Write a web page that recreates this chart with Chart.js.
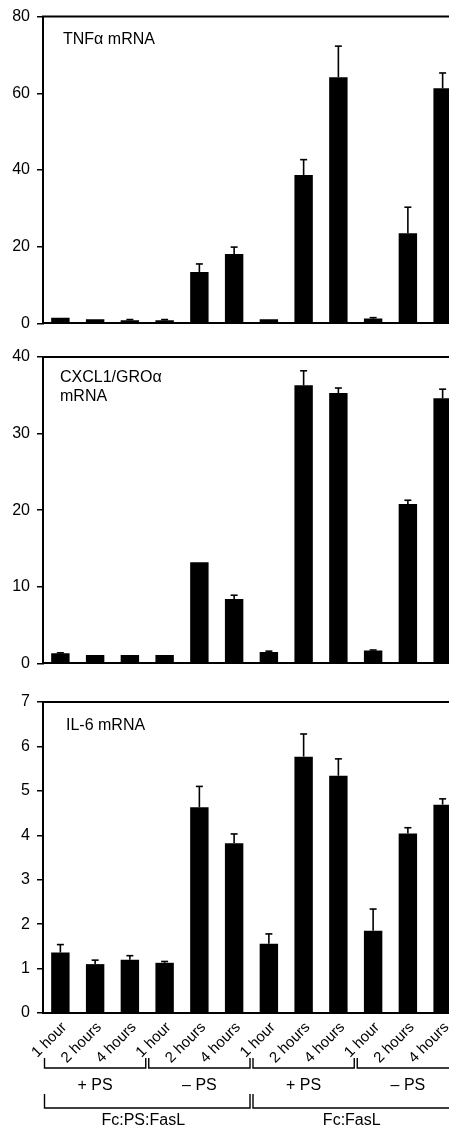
<!DOCTYPE html>
<html><head><meta charset="utf-8">
<script src="https://cdn.jsdelivr.net/npm/chart.js@4.4.1/dist/chart.umd.min.js"></script>
<style>
html,body{margin:0;padding:0;background:#fff;overflow:hidden;width:449px;height:1129px;}
#wrap{position:relative;width:449px;height:1129px;overflow:hidden;background:#fff;}
canvas{position:absolute;left:0;}
</style></head><body>
<div id="wrap">
<canvas id="c1" width="460" height="340" style="top:0px"></canvas>
<canvas id="c2" width="460" height="340" style="top:340px"></canvas>
<canvas id="c3" width="460" height="449" style="top:680px"></canvas>
</div>
<script>
// ---- data ----
const categories = ['1 hour','2 hours','4 hours','1 hour','2 hours','4 hours','1 hour','2 hours','4 hours','1 hour','2 hours','4 hours'];
const psLabels = ['+ PS','\u2013 PS','+ PS','\u2013 PS'];
const groupLabels = ['Fc:PS:FasL','Fc:FasL'];

const tnfMean = [1.5,1.1,0.8,0.8,13.4,18.1,1.1,38.7,64.2,1.3,23.5,61.3];
const tnfSD   = [0,0,0.2,0.2,2.1,1.8,0,4.0,8.1,0.2,6.8,4.0];
const tnfTicks = [0,20,40,60,80];

const cxclMean = [1.33,1.1,1.1,1.1,13.2,8.4,1.5,36.3,35.3,1.7,20.8,34.6];
const cxclSD   = [0.05,0,0,0,0,0.5,0.1,1.9,0.65,0.05,0.5,1.2];
const cxclTicks = [0,10,20,30,40];

const il6Mean = [1.36,1.10,1.20,1.13,4.63,3.82,1.56,5.77,5.34,1.85,4.04,4.69];
const il6SD   = [0.18,0.09,0.09,0.03,0.47,0.21,0.22,0.51,0.38,0.49,0.13,0.13];
const il6Ticks = [0,1,2,3,4,5,6,7];

// ---- chart ----
const FONT = '"Liberation Sans", Arial, Helvetica, sans-serif';
Chart.defaults.font.family = FONT;
Chart.defaults.color = '#000';

function line(ctx,x0,y0,x1,y1){ctx.beginPath();ctx.moveTo(x0,y0);ctx.lineTo(x1,y1);ctx.stroke();}

function makePanel(id, mean, sd, ticks, title, opt){
  const panelPlugin = {
    id: 'panel_'+id,
    afterDatasetsDraw(chart){
      const ctx = chart.ctx, xs = chart.scales.x, ys = chart.scales.y, ca = chart.chartArea;
      ctx.save();
      ctx.strokeStyle = '#000';
      ctx.lineWidth = 1.6;
      sd.forEach((s,i)=>{
        if(!(s>0)) return;
        const px = xs.getPixelForValue(i);
        const y0 = ys.getPixelForValue(mean[i]);
        const y1 = ys.getPixelForValue(mean[i]+s);
        line(ctx,px,y0,px,y1);
        line(ctx,px-3.5,y1,px+3.5,y1);
      });
      ctx.lineWidth = 2;
      line(ctx, ca.left-1, ca.top, ca.right, ca.top);
      ctx.fillStyle = '#000';
      ctx.font = '16px ' + FONT;
      ctx.textAlign = 'left';
      ctx.textBaseline = 'middle';
      title.forEach((t,k)=>ctx.fillText(t, ca.left + opt.lx, ca.top + opt.ly + k*19));
      ctx.restore();
    },
    afterDraw(chart){
      if(!opt.bottom) return;
      const ctx = chart.ctx, xs = chart.scales.x, ca = chart.chartArea;
      const half = (xs.getPixelForValue(1) - xs.getPixelForValue(0))/2;
      const b = ca.bottom;
      ctx.save();
      ctx.strokeStyle = '#000';
      ctx.fillStyle = '#000';
      // rotated category labels, ending just below each bar
      ctx.font = '15px ' + FONT;
      ctx.textAlign = 'right';
      ctx.textBaseline = 'alphabetic';
      chart.data.labels.forEach((lab,i)=>{
        ctx.save();
        ctx.translate(xs.getPixelForValue(i) + 7, b + 15);
        ctx.rotate(-Math.PI/4);
        ctx.fillText(lab, 0, 0);
        ctx.restore();
      });
      ctx.font = '16px ' + FONT;
      ctx.lineWidth = 1.4;
      ctx.textAlign = 'center';
      ctx.textBaseline = 'middle';
      psLabels.forEach((lab,g)=>{
        const s = g*3, e = g*3+2;
        const xl = xs.getPixelForValue(s) - half + 1.5;
        const xr = xs.getPixelForValue(e) + half - 1.5;
        ctx.beginPath();
        ctx.moveTo(xl, b+45); ctx.lineTo(xl, b+55); ctx.lineTo(xr, b+55); ctx.lineTo(xr, b+45);
        ctx.stroke();
        ctx.fillText(lab, xs.getPixelForValue(s+1), b+73);
      });
      groupLabels.forEach((lab,g)=>{
        const s = g*6, e = g*6+5;
        const xl = xs.getPixelForValue(s) - half + 1.5;
        const xr = xs.getPixelForValue(e) + half - 1.5;
        ctx.beginPath();
        ctx.moveTo(xl, b+81); ctx.lineTo(xl, b+95); ctx.lineTo(xr, b+95); ctx.lineTo(xr, b+81);
        ctx.stroke();
        ctx.fillText(lab, (xs.getPixelForValue(s+2)+xs.getPixelForValue(s+3))/2 - 4, b+108);
      });
      ctx.restore();
    }
  };

  return new Chart(document.getElementById(id), {
    type: 'bar',
    data: {
      labels: categories,
      datasets: [{
        data: mean,
        backgroundColor: '#000',
        borderWidth: 0,
        barPercentage: 0.53,
        categoryPercentage: 1.0
      }]
    },
    options: {
      responsive: false,
      animation: false,
      devicePixelRatio: 1,
      layout: { padding: { top: opt.padTop, right: 0, left: 0, bottom: 0 } },
      plugins: { legend: { display: false }, tooltip: { enabled: false }, title: { display: false } },
      scales: {
        x: {
          type: 'category',
          offset: true,
          grid: { display: false, drawTicks: false },
          border: { display: true, color: '#000', width: 2 },
          ticks: { display: false },
          afterFit: s => { s.height = opt.xH; }
        },
        y: {
          min: 0, max: ticks[ticks.length-1],
          afterBuildTicks: s => { s.ticks = ticks.map(v => ({ value: v })); },
          grid: { display: true, drawOnChartArea: false, drawTicks: true, tickLength: 6, color: '#000', lineWidth: 1.5 },
          border: { display: true, color: '#000', width: 2 },
          ticks: { font: { size: 16, family: FONT }, color: '#000', padding: 7 },
          afterFit: s => { s.width = 43; }
        }
      }
    },
    plugins: [panelPlugin]
  });
}

makePanel('c1', tnfMean, tnfSD, tnfTicks, ['TNF\u03b1 mRNA'], { padTop: 14, xH: 16, lx: 20, ly: 23 });
makePanel('c2', cxclMean, cxclSD, cxclTicks, ['CXCL1/GRO\u03b1','mRNA'], { padTop: 17, xH: 12, lx: 17, ly: 21 });
makePanel('c3', il6Mean, il6SD, il6Ticks, ['IL-6 mRNA'], { padTop: 22, xH: 116, lx: 23, ly: 24, bottom: true });
</script>
</body></html>
